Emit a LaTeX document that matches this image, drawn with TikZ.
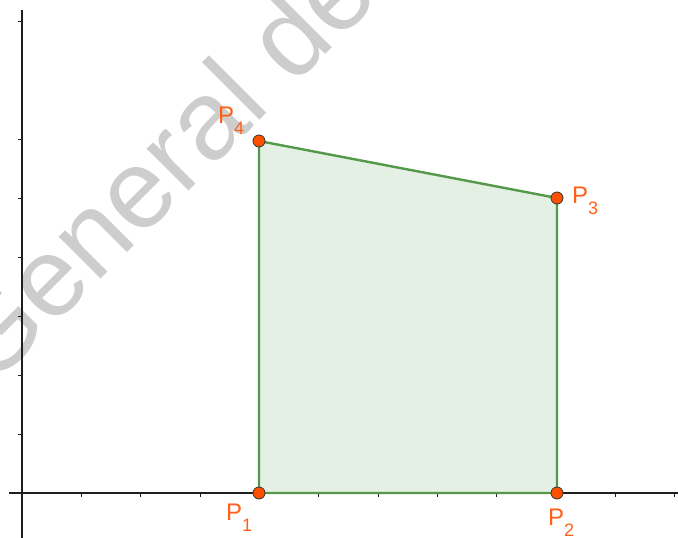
\documentclass[tikz,border=0pt]{standalone}
\usepackage{fontspec}
\setmainfont{Liberation Sans}
\definecolor{edgegreen}{RGB}{84,152,74}
\definecolor{fillgreen}{RGB}{228,240,228}
\definecolor{dotred}{RGB}{255,80,0}
\definecolor{lblorange}{RGB}{255,95,25}
\definecolor{axisgray}{RGB}{30,30,30}
\definecolor{wmgray}{RGB}{205,205,205}
\newcommand\ptlabel[1]{{\fontsize{24}{24}\selectfont P}\raisebox{-11pt}{\fontsize{18}{18}\selectfont #1}}
\begin{document}
\begin{tikzpicture}[x=1pt,y=-1pt,
  axisline/.style={draw=axisgray,line width=1.3pt},
  tickline/.style={draw=axisgray,line width=1pt},
  polyedge/.style={draw=edgegreen,line width=2.4pt,fill=fillgreen,line join=round},
  ptdot/.style={circle,fill=dotred,draw=black!80,line width=0.8pt,minimum size=12pt,inner sep=0pt},
  ptlbl/.style={text=lblorange,anchor=base west,inner sep=0pt},
  watermark/.style={text=wmgray,anchor=base west,inner sep=0pt,rotate=45,font=\fontsize{112}{112}\selectfont}]
\useasboundingbox (0,0) rectangle (678,538);
% watermark
\node[watermark] (wm) at (-10,390) {General de};
% axes
\coordinate (xa0) at (9,493);
\coordinate (xa1) at (678,493);
\coordinate (ya0) at (22,538);
\coordinate (ya1) at (22,10);
\draw[axisline] (xa0) -- (xa1);
\draw[axisline] (ya0) -- (ya1);
\foreach \k in {1,...,11}{
  \draw[tickline] ({22+59.35*\k},493) -- ++(0,4);
}
\foreach \k in {1,2,3,4,5,6,8}{
  \draw[tickline] (22,{493-59*\k}) -- ++(-4,0);
}
% polygon
\coordinate (P1) at (259,493);
\coordinate (P2) at (557,493);
\coordinate (P3) at (557,198);
\coordinate (P4) at (259,141);
\draw[polyedge] (P1) -- (P2) -- (P3) -- (P4) -- cycle;
% points
\node[ptdot] (d1) at (P1) {};
\node[ptdot] (d2) at (P2) {};
\node[ptdot] (d3) at (P3) {};
\node[ptdot] (d4) at (P4) {};
% labels
\node[ptlbl] (l4) at (218,123) {\ptlabel{4}};
\node[ptlbl] (l3) at (572,203) {\ptlabel{3}};
\node[ptlbl] (l1) at (226,520) {\ptlabel{1}};
\node[ptlbl] (l2) at (548,525) {\ptlabel{2}};
\end{tikzpicture}
\end{document}
